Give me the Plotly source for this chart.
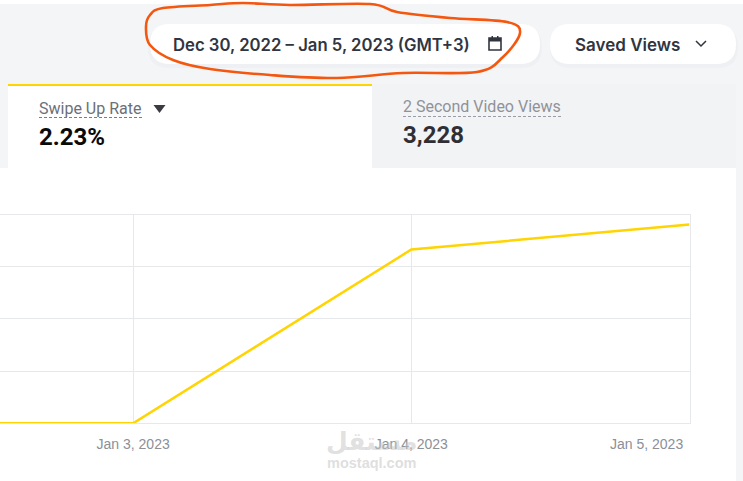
import plotly.graph_objects as go

W, H = 743, 481

# ---- data ----
dates = ["2023-01-02", "2023-01-03", "2023-01-04", "2023-01-05"]
swipe_up_rate = [0, 0, 3.33, 3.81]
tick_dates = ["2023-01-03", "2023-01-04", "2023-01-05"]
tick_labels = ["Jan 3, 2023", "Jan 4, 2023", ""]
last_tick_label = "Jan 5, 2023"
y_grid = [0, 1, 2, 3, 4]
date_range_label = "Dec 30, 2022 – Jan 5, 2023 (GMT+3)"
saved_views_label = "Saved Views"
metric_1_name, metric_1_value = "Swipe Up Rate", "2.23%"
metric_2_name, metric_2_value = "2 Second Video Views", "3,228"

BG = "#f4f5f7"
GRID = "#e6e8ec"
YELLOW = "#ffd400"
ORANGE = "#f4570f"
DARK = "#30353f"


def px(x):
    return x / W


def py(y):
    return 1 - y / H


def P(x, y):
    return f"{px(x):.5f},{py(y):.5f}"


def rect(x0, y0, x1, y1, color):
    return dict(type="rect", xref="paper", yref="paper", x0=px(x0), x1=px(x1), y0=py(y0), y1=py(y1),
                fillcolor=color, line_width=0, layer="below")


def pill(x0, y0, x1, y1, color, r=None):
    r = r if r is not None else (y1 - y0) / 2
    path = (f"M{P(x0 + r, y0)} L{P(x1 - r, y0)} Q{P(x1, y0)} {P(x1, y0 + r)} L{P(x1, y1 - r)} "
            f"Q{P(x1, y1)} {P(x1 - r, y1)} L{P(x0 + r, y1)} Q{P(x0, y1)} {P(x0, y1 - r)} "
            f"L{P(x0, y0 + r)} Q{P(x0, y0)} {P(x0 + r, y0)} Z")
    return dict(type="path", xref="paper", yref="paper", path=path, fillcolor=color, line_width=0, layer="below")


def hline(x0, x1, y, color, width=1, dash="solid"):
    return dict(type="line", xref="paper", yref="paper", x0=px(x0), x1=px(x1), y0=py(y), y1=py(y),
                line=dict(color=color, width=width, dash=dash), layer="below")


def free_path(points, color, width, closed=True, layer="above", fill=None):
    n = len(points)
    d = f"M{P(*points[0])}"
    for i in range(n if closed else n - 1):
        p0 = points[(i - 1) % n]
        p1 = points[i]
        p2 = points[(i + 1) % n]
        p3 = points[(i + 2) % n]
        c1 = (p1[0] + (p2[0] - p0[0]) / 6, p1[1] + (p2[1] - p0[1]) / 6)
        c2 = (p2[0] - (p3[0] - p1[0]) / 6, p2[1] - (p3[1] - p1[1]) / 6)
        d += f" C{P(*c1)} {P(*c2)} {P(*p2)}"
    return dict(type="path", xref="paper", yref="paper", path=d,
                line=dict(color=color, width=width), layer=layer,
                fillcolor=fill or "rgba(0,0,0,0)")


def text(x, y, s, size, color, family="Roboto", weight=400, anchor="left"):
    return dict(xref="paper", yref="paper", x=px(x), y=py(y), text=s, showarrow=False,
                xanchor=anchor, yanchor="middle", align=anchor,
                font=dict(size=size, color=color, family=family, weight=weight))


shapes = [
    rect(0, 0, W, H, BG),
    rect(0, 0, W, 4, "#ffffff"),
    # card
    rect(372, 84, 736, 168, "#f2f3f5"),
    rect(8, 84, 372, 168, "#ffffff"),
    rect(8, 84, 372, 86, YELLOW),
    rect(0, 168, 736, H, "#ffffff"),
    # button shadows and pills
    pill(148, 26, 542, 68, "#eff0f3"),
    pill(550, 26, 738, 68, "#eff0f3"),
    pill(150, 24, 540, 64, "#ffffff"),
    pill(550, 24, 736, 64, "#ffffff"),
    # metric underlines
    hline(39, 142, 117.5, "#777c85", 1, "3px,2px"),
    hline(403, 561, 116.5, "#9a9da5", 1, "3px,2px"),
    # metric triangle
    dict(type="path", xref="paper", yref="paper", layer="above", line_width=0, fillcolor="#3a3c42",
         path=f"M{P(153.5, 105)} L{P(165.5, 105)} L{P(159.5, 113)} Z"),
    # chevron
    dict(type="path", xref="paper", yref="paper", layer="above", fillcolor="rgba(0,0,0,0)",
         line=dict(color=DARK, width=1.5),
         path=f"M{P(696, 41)} L{P(701, 46)} L{P(706, 41)}"),
    # calendar icon
    dict(type="rect", xref="paper", yref="paper", layer="above", fillcolor="rgba(0,0,0,0)",
         x0=px(489), x1=px(501), y0=py(38), y1=py(50), line=dict(color=DARK, width=1.6)),
    rect(489, 38, 501, 41.5, DARK) | {"layer": "above"},
    rect(491.5, 36, 493, 38, DARK) | {"layer": "above"},
    rect(497, 36, 498.5, 38, DARK) | {"layer": "above"},
    # hand-drawn orange ring
    free_path([(163, 8), (150, 15), (146, 27), (150, 45), (173, 60), (210, 69), (270, 75), (337, 78),
               (403, 73), (477, 72), (503, 57), (520, 33), (507, 22), (450, 18), (397, 12), (370, 4),
               (290, 5), (243, 3), (210, 5)],
              ORANGE, 2.6),
]

annotations = [
    # watermark
    text(371.5, 441, "مستقل", 25, "rgba(195,195,195,0.5)", "DejaVu Sans", 700, "center"),
    text(371.5, 463, "mostaql.com", 14.5, "rgba(195,195,195,0.55)", "Liberation Sans", 700, "center"),
    text(171, 45, date_range_label, 16.7, DARK, "Inter", 600),
    text(573, 45, saved_views_label, 17, DARK, "Inter", 600),
    text(37, 108, metric_1_name, 16, "#6b7078"),
    text(37, 137, metric_1_value, 24, "#0a0a0a", "Roboto", 700),
    text(401, 106.5, metric_2_name, 16, "#8f9299"),
    text(401, 135, metric_2_value, 24, "#2f2f33", "Roboto", 700),
    text(685, 444, last_tick_label, 14, "#8b9099", "Liberation Sans", 400, "right"),
]

fig = go.Figure(
    go.Scatter(x=dates, y=swipe_up_rate, mode="lines", cliponaxis=False,
               line=dict(color=YELLOW, width=2.5), hoverinfo="skip", showlegend=False)
)
fig.update_layout(
    width=W, height=H, margin=dict(l=0, r=0, t=0, b=0), autosize=False,
    paper_bgcolor="#ffffff", plot_bgcolor="rgba(0,0,0,0)",
    shapes=shapes, annotations=annotations, showlegend=False,
    font=dict(family="Liberation Sans"),
)
fig.update_xaxes(
    type="date", domain=[0, 689.5 / W], range=["2023-01-02 12:31", "2023-01-05"],
    tickmode="array", tickvals=tick_dates, ticktext=tick_labels,
    showgrid=True, gridcolor=GRID, gridwidth=1, zeroline=False,
    showline=True, linecolor=GRID, linewidth=1, mirror=True, ticks="",
    tickfont=dict(size=14, color="#8b9099", family="Liberation Sans"), ticklabelstandoff=8,
)
fig.update_yaxes(
    domain=[py(423.3), py(214.6)], range=[0, 4], tickmode="array", tickvals=y_grid,
    showgrid=True, gridcolor=GRID, gridwidth=1, zeroline=False,
    showline=True, linecolor=GRID, linewidth=1, mirror=True, ticks="",
    showticklabels=False,
)
fig.write_html("out.html", post_script="document.body.style.margin='0';document.documentElement.style.overflow='hidden';",
               config={"displayModeBar": False})
